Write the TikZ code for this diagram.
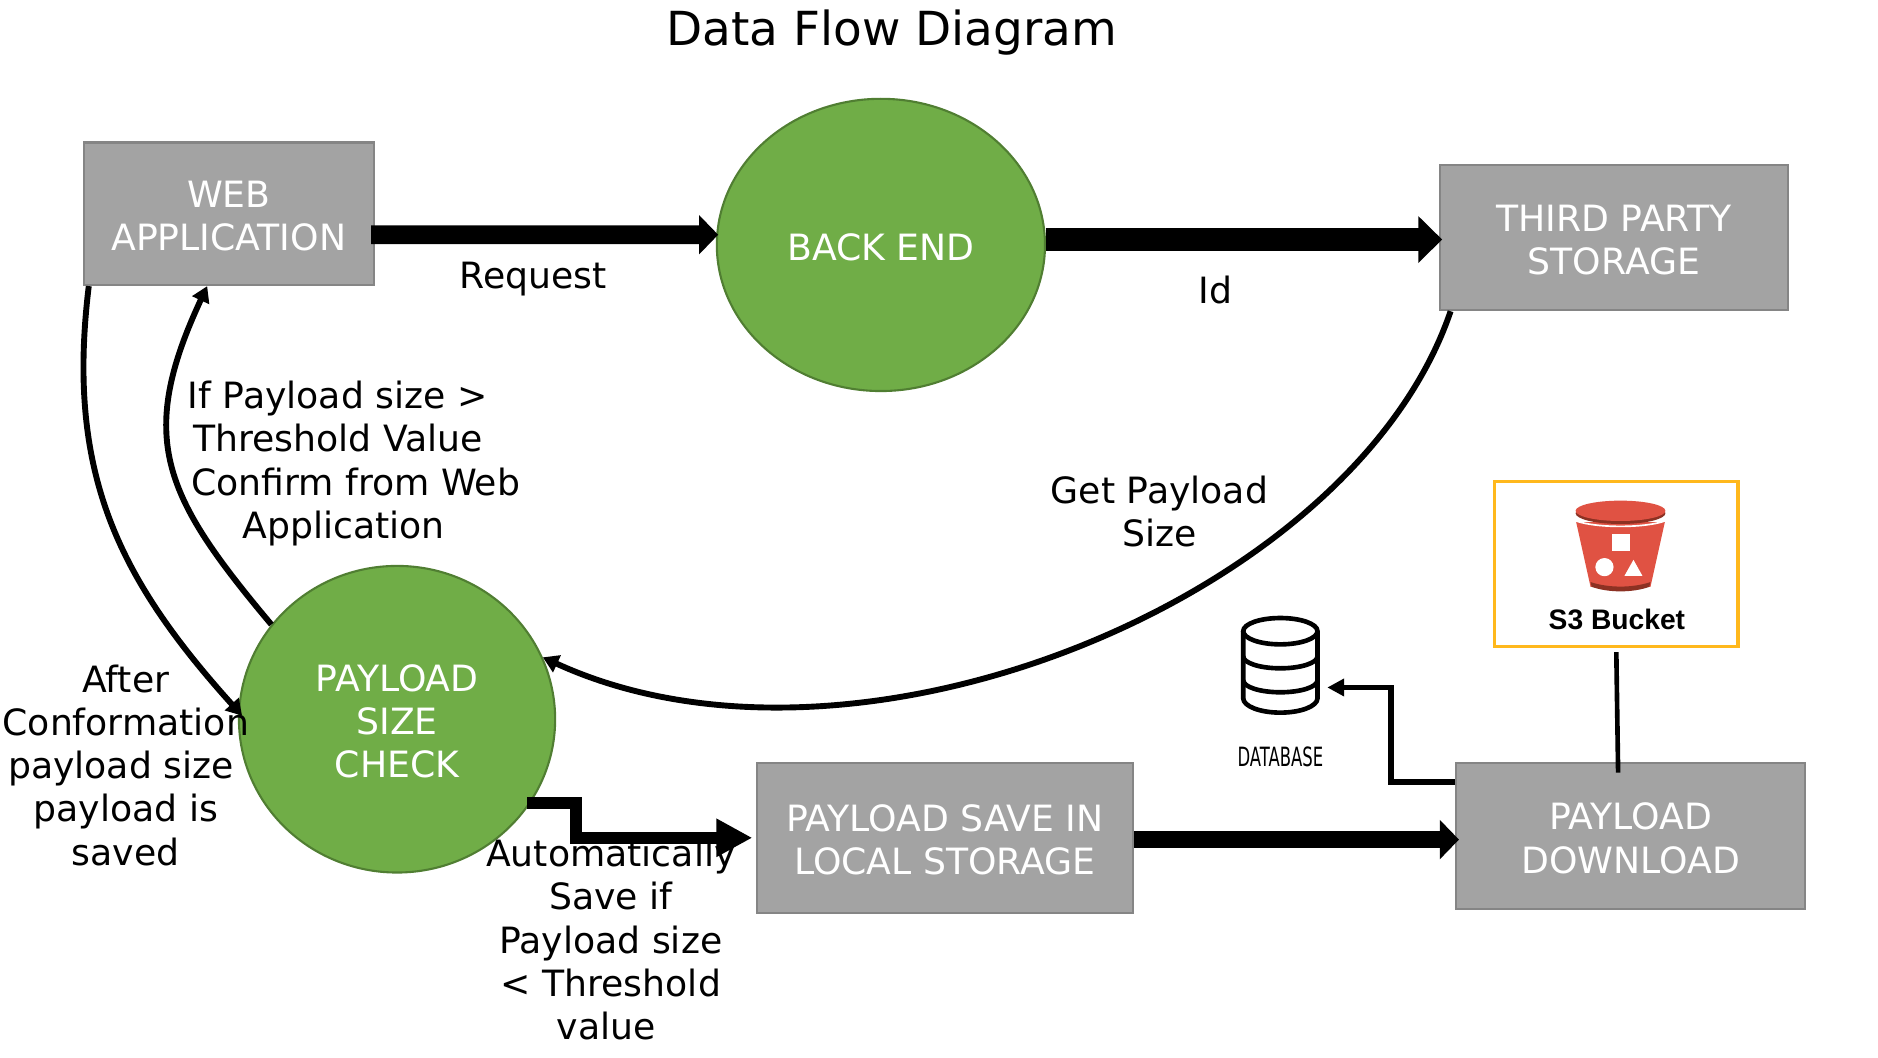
\documentclass[tikz,border=0pt]{standalone}
\usepackage{fontspec}
\usepackage{graphicx}
\setmainfont{DejaVu Sans}
\newfontfamily\bucketfont{Liberation Sans}
\usetikzlibrary{arrows.meta,shapes.geometric}
\definecolor{boxgray}{HTML}{A3A3A3}
\definecolor{boxedge}{HTML}{858585}
\definecolor{procgreen}{HTML}{70AD47}
\definecolor{procedge}{HTML}{507E32}
\definecolor{bucketred}{HTML}{E05243}
\definecolor{bucketdark}{HTML}{8C3123}
\definecolor{bucketedge}{HTML}{FFB81C}
\tikzset{
  boxnode/.style={rectangle,draw=boxedge,fill=boxgray,line width=.5pt,text=white,align=center,inner sep=0pt,text height=17.7pt},
  procnode/.style={ellipse,draw=procedge,fill=procgreen,line width=.5pt,text=white,align=center,inner sep=0pt},
  labelnode/.style={align=center,inner sep=0pt},
  heavyflow/.style={line width=#1,-{Triangle[length=.16cm,width=.32cm]}},
  curveflow/.style={line width=1.4pt,-{Triangle[length=.13cm,width=.15cm]}}
}
\begin{document}
\begin{tikzpicture}[font=\fontsize{8.6}{10.24}\selectfont]
\useasboundingbox (0,-.04) rectangle (15.68,8.79);

\node[labelnode,font=\fontsize{11.15}{13}\selectfont] (title) at (7.445,8.52) {Data Flow Diagram};

\node[boxnode,minimum width=2.42cm,minimum height=1.19cm] (web) at (1.91,7.005) {WEB\\APPLICATION};
\node[procnode,minimum width=2.74cm,minimum height=2.44cm,text height=7.7pt] (backend) at (7.355,6.745) {BACK END};
\node[boxnode,minimum width=2.91cm,minimum height=1.21cm] (third) at (13.475,6.805) {THIRD PARTY\\STORAGE};
\node[procnode,minimum width=2.64cm,minimum height=2.56cm,text height=28pt] (check) at (3.315,2.785) {PAYLOAD\\SIZE\\CHECK};
\node[boxnode,minimum width=3.14cm,minimum height=1.25cm] (save) at (7.89,1.795) {PAYLOAD SAVE IN\\LOCAL STORAGE};
\node[boxnode,minimum width=2.91cm,minimum height=1.22cm] (download) at (13.615,1.81) {PAYLOAD\\DOWNLOAD};

% bucket
\node[draw=bucketedge,fill=white,line width=.8pt,minimum width=2.03cm,minimum height=1.38cm,inner sep=0pt] (bucket) at (13.495,4.08) {};
\begin{scope}[shift={(13.53,4.52)}]
\fill[bucketred] (-.37,-.09) -- (.37,-.09) -- (.25,-.63) -- (-.25,-.63) -- cycle;
\fill[bucketdark] (-.25,-.59) .. controls (-.1,-.64) and (.1,-.64) .. (.25,-.59) -- (.24,-.63) .. controls (.1,-.68) and (-.1,-.68) .. (-.24,-.63) -- cycle;
\fill[bucketdark] (0,-.015) ellipse (.375 and .09);
\fill[bucketred] (0,.005) ellipse (.375 and .085);
\draw[white,line width=.4pt] (-.37,-.08) .. controls (-.2,-.14) and (.2,-.14) .. (.37,-.08);
\fill[white] (-.075,-.19) rectangle (.075,-.33);
\fill[white] (-.134,-.465) circle (.076);
\fill[white] (.108,-.404) -- (.183,-.538) -- (.033,-.538) -- cycle;
\end{scope}
\node[labelnode,font=\bucketfont\bfseries\fontsize{6.7}{8}\selectfont] (bucketlabel) at (13.5,3.62) {S3 Bucket};

% database
\node[inner sep=0pt,minimum width=.63cm,minimum height=.81cm] (dbicon) at (10.69,3.24) {};
\begin{scope}[shift={(dbicon.center)},line width=1.1pt]
\draw (0,.28) ellipse (.31 and .11);
\draw (-.31,.28) -- (-.31,-.28) arc (180:360:.31 and .12) -- (.31,.28);
\draw (-.31,.07) arc (180:360:.31 and .1);
\draw (-.31,-.13) arc (180:360:.31 and .1);
\end{scope}
\node[labelnode,font=\fontsize{6.3}{7}\selectfont] (dblabel) at (10.69,2.47) {\scalebox{.62}[1]{DATABASE}};

\draw[heavyflow=4.5pt] ([xshift=-.03cm,yshift=-.175cm]web.east) -- ([xshift=.02cm,yshift=.085cm]backend.west);
\draw[line width=5.6pt,-{Triangle[length=.2cm,width=.38cm]}] ([yshift=.045cm]backend.east) -- ([xshift=.03cm,yshift=-.015cm]third.west);
\draw[curveflow] ([xshift=.05cm]web.south west) to[out=-97,in=132,looseness=1.05] ([xshift=.035cm,yshift=.03cm]check.west);
\draw[curveflow] (check.143) to[out=130,in=-115,looseness=1.25] ([xshift=-.18cm]web.south);
\draw[curveflow] ([xshift=.1cm]third.south west) .. controls (11.3,3.8) and (7.15,2.1) .. (check.23);
\draw[line width=2.8pt,-{Triangle[length=.3cm,width=.3cm]}] ([xshift=-.03cm]check.-32) -- ++(.41,0) |- ([xshift=-.03cm]save.west);
\draw[heavyflow=4pt] ([yshift=-.015cm]save.east) -- ([xshift=.03cm,yshift=-.03cm]download.west);
\draw[line width=1.4pt,-{Triangle[length=.14cm,width=.14cm]}] ([yshift=.45cm]download.west) -- ++(-.54,0) |- ([xshift=.07cm,yshift=-.19cm]dbicon.east);
\draw[line width=1.1pt] ([yshift=-.03cm]bucket.south) -- ([xshift=-.105cm,yshift=-.09cm]download.north);

\node[labelnode] (req) at (4.45,6.46) {Request};
\node[labelnode] (idlabel) at (10.15,6.37) {Id};
\node[labelnode] (confirm) at (2.82,4.92) {If Payload size >\\Threshold Value\\\hspace*{.3cm}Confirm from Web\\\hspace*{.1cm}Application};
\node[labelnode] (getsize) at (9.68,4.52) {Get Payload\\Size};
\node[labelnode] (after) at (1.05,2.4) {After\\Conformation\\\hspace*{-.08cm}payload size\\payload is\\saved};
\node[labelnode] (auto) at (5.1,.945) {Automatically\\Save if\\Payload size\\< Threshold\\\hspace*{-.08cm}value};
\end{tikzpicture}
\end{document}
